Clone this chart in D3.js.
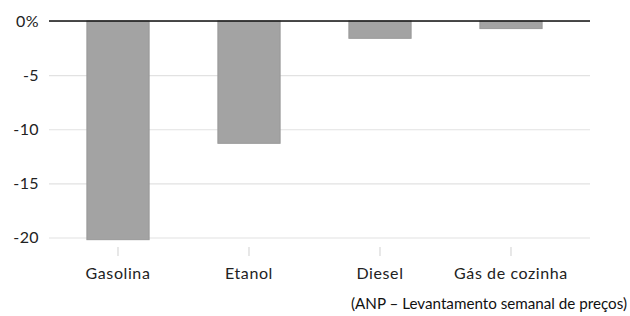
<!DOCTYPE html>
<html>
<head>
<meta charset="utf-8">
<script src="https://cdn.jsdelivr.net/npm/d3@7"></script>
<style>
  body { margin: 0; background: #fff; }
  svg { display: block; }
</style>
</head>
<body>
<svg id="chart" width="630" height="316"></svg>
<script>
const categories = ['Gasolina', 'Etanol', 'Diesel', 'Gás de cozinha'];
const values = [-20.2, -11.3, -1.6, -0.7];
const yTicks = [0, -5, -10, -15, -20];
const source = '(ANP – Levantamento semanal de preços)';

const svg = d3.select('#chart');
const labelFont = 'Lato, "Noto Sans", sans-serif';

const y = d3.scaleLinear()
    .domain([0, -20])
    .range([21, 237.5]);

const x = d3.scaleBand()
    .domain(categories)
    .range([52.5, 576.5])
    .paddingInner(0.525)
    .paddingOuter(0.2625);

// gridlines + y labels
const yAxis = d3.axisLeft(y)
    .tickValues(yTicks)
    .tickSize(-541)
    .tickFormat(d => (d === 0 ? '0%' : d));

const gy = svg.append('g')
    .attr('transform', 'translate(49,0)')
    .call(yAxis);
gy.select('.domain').remove();
gy.selectAll('.tick line')
    .attr('stroke', '#e2e2e2')
    .attr('stroke-width', 1.2);
gy.selectAll('.tick text')
    .attr('x', -10)
    .attr('fill', '#222')
    .style('font-family', labelFont)
    .style('font-size', '16px')
    .style('letter-spacing', '0.4px');

// bars
svg.append('g')
    .selectAll('rect')
    .data(values)
    .join('rect')
    .attr('x', (d, i) => x(categories[i]))
    .attr('y', y(0))
    .attr('width', x.bandwidth())
    .attr('height', d => y(d) - y(0))
    .attr('fill', '#a3a3a3')
    .attr('stroke', '#999')
    .attr('stroke-width', 1);

// zero line
svg.append('line')
    .attr('x1', 49)
    .attr('x2', 590)
    .attr('y1', y(0))
    .attr('y2', y(0))
    .attr('stroke', '#111')
    .attr('stroke-width', 1.6);

// x axis ticks and labels
const xAxis = d3.axisBottom(x)
    .tickSize(9)
    .tickPadding(12);

const gx = svg.append('g')
    .attr('transform', 'translate(0,247)')
    .call(xAxis);
gx.select('.domain').remove();
gx.selectAll('.tick line')
    .attr('stroke', '#d8d8d8')
    .attr('stroke-width', 1.2);
gx.selectAll('.tick text')
    .attr('fill', '#222')
    .style('font-family', labelFont)
    .style('font-size', '16px')
    .style('letter-spacing', '0.6px');

// source note
svg.append('text')
    .attr('x', 627)
    .attr('y', 309)
    .attr('text-anchor', 'end')
    .attr('fill', '#111')
    .style('font-family', 'Lato, "Open Sans", sans-serif')
    .style('font-size', '15.2px')
    .text(source);
</script>
</body>
</html>
